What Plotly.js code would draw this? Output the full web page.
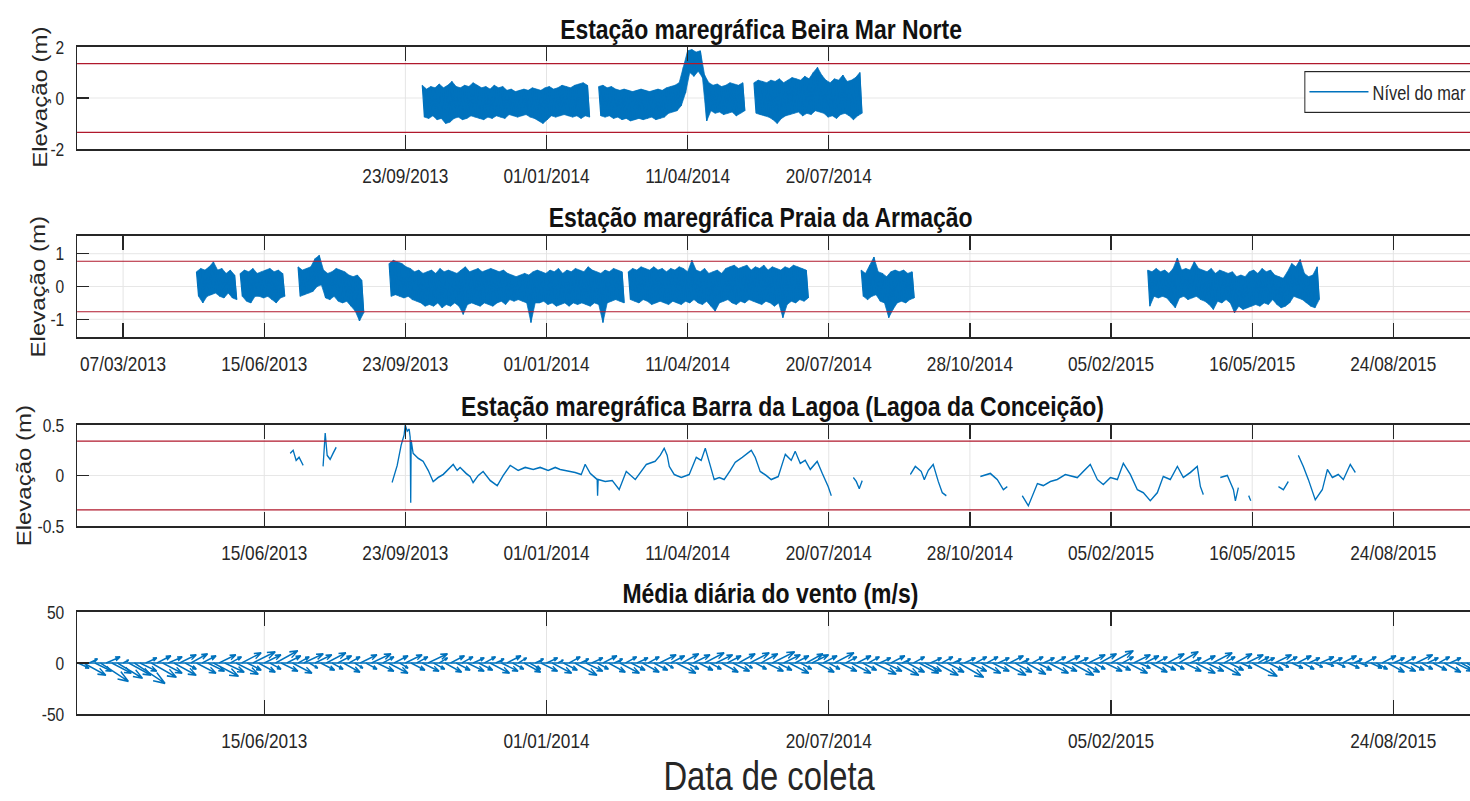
<!DOCTYPE html>
<html>
<head>
<meta charset="utf-8">
<script src="https://cdn.plot.ly/plotly-3.0.1.min.js"></script>
<style>
  html, body { margin: 0; padding: 0; overflow: hidden; background: #fff; }
  /* figura desenhada mais larga e comprimida na horizontal */
  #grafico { width: 1841px; height: 801px; transform: scaleX(0.82); transform-origin: 0 0; }
</style>
</head>
<body>
<div id="grafico"></div>
<script>
// ---------------------------------------------------------------
// Dados: tempo em dias contados a partir de 07/03/2013
// ---------------------------------------------------------------
const DIA_ZERO = Date.UTC(2013, 2, 7);
const DIA_MS = 86400000;
const PASSO_MARE = 3;          // dias entre amostras da envoltória da maré
const LIMITE_EIXO = [-32.6, 970.2];

// Estação Beira Mar Norte: início de cada trecho e envoltória (m)
const beiraInicio = [212, 337, 447];
const beiraMax = [
  [0.5,0.35,0.45,0.4,0.55,0.4,0.5,0.65,0.45,0.4, 0.5,0.45,0.6,0.5,0.4,0.45,0.35,0.5,0.4,0.45,
   0.3,0.35,0.25,0.3,0.35,0.3,0.4,0.35,0.3,0.4, 0.45,0.35,0.4,0.5,0.45,0.4,0.5,0.55,0.6,0.5],
  [0.45,0.5,0.4,0.45,0.35,0.3,0.35,0.3,0.25,0.3, 0.35,0.3,0.25,0.3,0.35,0.3,0.4,0.45,0.5,0.6,
   1.2,1.85,1.9,1.8,1.85, 0.9,0.6,0.5,0.55,0.45, 0.5,0.6,0.55,0.5,0.6],
  [0.6,0.7,0.65,0.6,0.7,0.65,0.75,0.6,0.7,0.8, 0.75,0.7,0.85,0.75,1.0,1.2,0.9,0.7,0.6,0.75,
   0.7,0.9,0.65,0.7,0.8,1.0]
];
const beiraMin = [
  [-0.75,-0.8,-0.7,-0.85,-0.8,-1.0,-0.95,-0.8,-0.75,-0.85, -0.8,-0.7,-0.75,-0.8,-0.85,-0.75,-0.8,-0.7,-0.75,-0.8,
   -0.65,-0.7,-0.75,-0.7,-0.65,-0.75,-0.8,-0.9,-1.0,-0.85, -0.7,-0.75,-0.7,-0.65,-0.7,-0.75,-0.7,-0.8,-0.7,-0.75],
  [-0.7,-0.75,-0.7,-0.8,-0.75,-0.85,-0.8,-0.9,-0.85,-0.8, -0.85,-0.8,-0.75,-0.85,-0.8,-0.75,-0.6,-0.55,-0.5,-0.3,
   0.2,1.0,0.85,1.05,0.8, -0.9,-0.5,-0.6,-0.55,-0.65, -0.6,-0.55,-0.7,-0.6,-0.5],
  [-0.6,-0.65,-0.7,-0.75,-0.85,-1.0,-0.8,-0.7,-0.65,-0.6, -0.55,-0.7,-0.6,-0.65,-0.5,-0.55,-0.6,-0.75,-0.7,-0.8,
   -0.65,-0.6,-0.7,-0.85,-0.7,-0.6]
];
const beiraLimite = [-1.35, 1.35];

// Estação Praia da Armação
const armacaoInicio = [52, 83, 124, 188.5, 358, 523, 726];
const armacaoMax = [
  [0.45,0.55,0.5,0.6,0.75,0.5,0.55,0.4,0.5,0.35],
  [0.4,0.5,0.45,0.55,0.4,0.45,0.5,0.55,0.45,0.5,0.4],
  [0.6,0.5,0.55,0.6,0.85,0.95,0.5,0.4,0.45,0.55,0.5,0.45,0.35,0.3,0.35,0.2],
  [0.7,0.8,0.75,0.7,0.6, 0.55,0.45,0.5,0.4,0.45, 0.5,0.4,0.55,0.45,0.5, 0.45,0.4,0.5,0.6,0.45,
   0.5,0.55,0.45,0.5,0.55, 0.5,0.45,0.5,0.4,0.35, 0.3,0.35,0.4,0.35,0.45, 0.5,0.45,0.4,0.5,0.45,
   0.55,0.4,0.5,0.45,0.55, 0.5,0.45,0.6,0.5,0.45, 0.4,0.5,0.45,0.55,0.5,0.45],
  [0.45,0.55,0.5,0.6,0.55,0.5,0.6,0.5,0.55,0.45, 0.55,0.5,0.6,0.55,0.45,0.8,0.5,0.45,0.55,0.4,
   0.45,0.5,0.4,0.55,0.6,0.65,0.55,0.6,0.65,0.5, 0.6,0.55,0.65,0.5,0.6,0.55,0.5,0.6,0.55,0.65,
   0.6,0.55,0.5],
  [0.5,0.4,0.65,0.9,0.45,0.4,0.3,0.45,0.5,0.45,0.5,0.4,0.45],
  [0.5,0.45,0.55,0.45,0.5,0.4,0.55,0.87,0.5,0.55, 0.5,0.76,0.55,0.5,0.45,0.55,0.4,0.5,0.45,0.4,
   0.45,0.3,0.35,0.3,0.45,0.5,0.4,0.55,0.45,0.5, 0.35,0.3,0.25,0.45,0.7,0.6,0.82,0.4,0.3,0.35,
   0.6]
];
const armacaoMin = [
  [-0.3,-0.5,-0.3,-0.25,-0.2,-0.3,-0.35,-0.2,-0.35,-0.4],
  [-0.3,-0.45,-0.5,-0.3,-0.3,-0.35,-0.3,-0.4,-0.5,-0.35,-0.3],
  [-0.3,-0.25,-0.2,-0.15,0.0,0.05,-0.35,-0.4,-0.3,-0.45,-0.5,-0.45,-0.6,-0.75,-1.05,-0.8],
  [-0.3,-0.25,-0.3,-0.35,-0.3, -0.4,-0.45,-0.5,-0.6,-0.55, -0.6,-0.5,-0.65,-0.55,-0.6, -0.5,-0.6,-0.85,-0.55,-0.5,
   -0.55,-0.6,-0.5,-0.55,-0.6, -0.5,-0.45,-0.55,-0.4,-0.45, -0.4,-0.45,-0.5,-1.1,-0.5, -0.5,-0.45,-0.55,-0.5,-0.6,
   -0.55,-0.5,-0.6,-0.5,-0.55, -0.5,-0.55,-0.6,-0.5,-0.55, -1.1,-0.5,-0.45,-0.4,-0.45,-0.5],
  [-0.4,-0.45,-0.5,-0.4,-0.45,-0.55,-0.5,-0.45,-0.5,-0.55, -0.45,-0.5,-0.55,-0.45,-0.5,-0.4,-0.5,-0.55,-0.45,-0.6,
   -0.75,-0.5,-0.45,-0.4,-0.5,-0.55,-0.45,-0.5,-0.4,-0.45, -0.5,-0.55,-0.45,-0.5,-0.6,-0.5,-0.95,-0.55,-0.45,-0.5,
   -0.4,-0.45,-0.35],
  [-0.3,-0.4,-0.3,-0.25,-0.45,-0.5,-0.95,-0.7,-0.5,-0.45,-0.5,-0.4,-0.35],
  [-0.6,-0.3,-0.35,-0.3,-0.35,-0.5,-0.65,-0.35,-0.3,-0.4, -0.35,-0.3,-0.4,-0.45,-0.55,-0.7,-0.45,-0.5,-0.4,-0.5,
   -0.8,-0.6,-0.7,-0.65,-0.6,-0.55,-0.6,-0.5,-0.55,-0.4, -0.55,-0.65,-0.6,-0.5,-0.3,-0.35,-0.4,-0.5,-0.6,-0.65,
   -0.4]
];
const armacaoLimite = [-0.77, 0.77];

// Estação Barra da Lagoa (Lagoa da Conceição): dia e nível (m); null separa trechos
const lagoaDia = [
  118.4,120.5,122.6,124.7,127.6, null,
  141.7,143.2,144.6,146.7,148.8,151.0, null,
  190.6,194.2,197.0,199.1,199.9,201.3,202.7,203.4,203.8,204.1,
  205.5,209.1,212.6,216.2,219.7,223.2,226.8,230.3,233.9,236.7,
  238.8,243.1,245.9,248.0,251.6,255.1,260.1,265.1,269.3,274.3,
  279.9,284.9,290.6,295.5,301.2,306.2,309.7,320.3,324.6,327.4,
  331.0,335.9,336.2,336.6,341.6,346.6,351.5,356.5,362.9,370.7,
  377.0,380.6,383.4,385.5,387.0,390.5,395.5,401.1,406.1,409.6,
  412.5,416.0,418.8,422.4,425.9,430.2,433.7,438.7,445.1,447.9,
  451.4,455.7,459.2,464.2,469.2,473.4,476.2,479.8,483.3,486.9,
  491.8,495.4,499.6,501.8, null,
  517.4,519.5,521.6,523.7, null,
  557.8,561.3,565.5,567.7,570.5,574.0,577.6,580.4,583.3, null,
  607.4,614.5,619.4,623.7,626.5, null,
  637.1,641.4,647.8,652.0,657.0,661.9,667.6,676.1,680.4,685.3,
  690.3,694.5,699.5,704.5,708.7,713.7,718.6,722.9,727.8,732.8,
  737.0,742.0,747.0,751.2,756.2,761.1,763.3,765.4, null,
  777.4,782.4,786.7,788.1,790.2, null,
  797.5,799.0, null,
  818.6,822.1,825.6, null,
  832.7,836.2,839.8,844.7,849.7,853.3,856.8,861.0,864.6,869.5,873.1
];
const lagoaNivel = [
  0.22,0.25,0.15,0.18,0.10, null,
  0.09,0.42,0.20,0.16,0.22,0.28, null,
  -0.07,0.10,0.30,0.40,0.50,0.44,0.46,0.38,-0.27,0.35,
  0.22,0.17,0.14,0.05,-0.06,-0.02,0.01,0.06,0.11,0.05,
  0.08,0.02,-0.01,-0.07,0.00,0.04,-0.05,-0.10,0.00,0.10,
  0.05,0.08,0.06,0.08,0.05,0.08,0.06,0.03,0.01,0.11,
  0.02,-0.04,-0.20,-0.04,-0.06,-0.05,-0.14,0.04,-0.04,0.11,
  0.14,0.20,0.27,0.20,0.09,0.01,-0.02,0.01,0.18,0.15,
  0.27,0.10,-0.04,-0.02,-0.04,0.05,0.13,0.18,0.25,0.18,
  0.04,0.00,-0.04,-0.01,0.21,0.15,0.24,0.12,0.15,0.06,
  0.14,0.02,-0.11,-0.20, null,
  -0.02,-0.06,-0.13,-0.05, null,
  0.01,0.09,0.04,-0.04,0.05,0.11,-0.06,-0.17,-0.20, null,
  -0.01,0.02,-0.04,-0.14,-0.11, null,
  -0.20,-0.30,-0.08,-0.10,-0.06,-0.04,0.01,-0.02,0.04,0.11,
  -0.04,-0.09,-0.02,-0.04,0.12,0.01,-0.14,-0.17,-0.25,-0.17,
  -0.01,-0.04,0.09,-0.02,0.03,0.09,-0.11,-0.19, null,
  -0.02,0.00,-0.14,-0.25,-0.12, null,
  -0.20,-0.25, null,
  -0.11,-0.14,-0.06, null,
  0.20,0.09,-0.04,-0.24,-0.14,0.06,-0.02,0.01,-0.04,0.11,0.03
];
const lagoaLimite = [-0.34, 0.34];

// Vento médio diário (m/s): componentes u (leste) e v (norte), a cada 4 dias
const ventoInicio = -32;
const ventoPasso = 4;
const ventoU = [
  4,8,3,6,10,5,7,9,2,8,  11,6,4,9,5,7,5,8,6,4,  6,7,5,6,9,6,7,4,8,7,  5,8,6,6,4,8,6,5,7,4,
  7,3,6,5,7,4,5,6,4,3,  6,4,7,6,4,7,5,3,6,5,  4,6,7,4,3,6,5,5,4,6,  4,5,4,7,3,6,5,4,3,6,
  4,3,6,4,7,2,5,4,8,3,  6,4,4,5,6,3,7,4,5,4,  6,4,5,6,3,5,7,6,4,6,  5,7,4,6,6,5,6,6,3,7,
  4,6,6,8,5,6,7,5,4,6,  6,6,5,4,7,6,4,7,5,5,  4,8,4,6,5,8,3,6,4,7,  6,4,8,4,6,3,9,4,6,4,
  7,4,6,4,8,5,6,3,7,4,  5,4,7,4,6,5,8,4,6,6,  4,6,6,8,5,4,7,6,4,5,  6,4,5,6,4,7,6,4,7,5,
  6,7,8,4,5,6,4,6,9,4,  4,5,6,3,4,4,5,4,4,3,  5,3,4,3,5,4,3,3,4,4,  4,5,6,4,6,4,5,6,4,4,
  5,4,6,4,6,8,10,12,9,7
];
const ventoV = [
  -5,-12,4,-8,-18,6,-10,-15,3,-12,  -20,-8,5,-14,7,-10,6,-12,8,-6,  9,-10,7,-8,-13,8,-9,6,-11,10,
  -7,11,-9,8,-6,12,-8,7,-10,6,  9,-5,8,-7,10,-6,7,-9,6,-5,  8,-6,9,-8,6,-10,7,-5,8,-7,
  6,-8,9,-6,5,-9,7,-7,6,-8,  5,-7,6,-10,4,-8,7,-6,5,-9,  -6,4,-8,5,-10,3,-7,6,-12,4,
  -8,5,-6,7,-9,4,-10,6,-7,5,  -9,6,-7,8,-5,7,-10,9,-6,8,  -7,10,-6,8,-9,7,-8,9,-5,10,
  -6,9,-8,11,-7,8,-10,7,-6,9,  8,-9,7,-6,10,-8,6,-10,7,-7,  6,-11,5,-8,7,-12,4,-9,6,-10,
  -8,5,-12,6,-9,4,-14,5,-8,6,  -10,6,-8,5,-12,7,-9,4,-11,6,  -7,5,-10,6,-8,7,-12,5,-9,8,
  -6,9,-8,12,-7,6,-10,8,-5,7,  -9,6,-7,9,-6,11,-8,5,-10,7,  -8,10,-12,6,-7,9,-5,8,-13,6,
  5,-7,8,-4,6,-5,7,-6,5,-4,  6,-3,5,-4,7,-5,4,-3,6,-5,  -6,7,-9,5,-8,6,-7,8,-6,5,
  -7,6,-9,5,-8,-12,-18,-22,-15,-10
];

// Marcas do eixo do tempo de cada painel
const ticksBeira = ['2013-09-23', '2014-01-01', '2014-04-11', '2014-07-20'];
const ticksArmacao = ['2013-03-07', '2013-06-15', '2013-09-23', '2014-01-01', '2014-04-11',
                      '2014-07-20', '2014-10-28', '2015-02-05', '2015-05-16', '2015-08-24'];
const ticksLagoa = ticksArmacao.slice(1);
const ticksVento = ['2013-06-15', '2014-01-01', '2014-07-20', '2015-02-05', '2015-08-24'];

const titulos = [
  'Estação maregráfica Beira Mar Norte',
  'Estação maregráfica Praia da Armação',
  'Estação maregráfica Barra da Lagoa (Lagoa da Conceição)',
  'Média diária do vento (m/s)'
];

// ---------------------------------------------------------------
// Desenho (posições horizontais dadas na página final, já comprimida)
// ---------------------------------------------------------------
const ESC = 0.82;                       // compressão horizontal aplicada ao div
const W = 1841, H = 801;
const ML = 77 / ESC, DIREITA = 1492 / ESC, MR = W - DIREITA;
const LARGURA = DIREITA - ML;
const AZUL = '#0072BD';
const VERMELHO = '#b0182c';
const EIXO = '#262626';
const GRADE = '#e4e4e4';
const SANS = "'Liberation Sans', Arial, sans-serif";

const diaParaMs = d => DIA_ZERO + d * DIA_MS;
const faixaX = LIMITE_EIXO.map(diaParaMs);
const pxParaPapel = px => (px / ESC - ML) / LARGURA;

// posições verticais dos painéis (px a partir do topo)
const paineis = [[47, 149], [236, 337], [425, 526], [612, 714]];
const dominio = p => [1 - p[1] / H, 1 - p[0] / H];

// Registro de maré: zigue-zague entre máximo e mínimo de cada amostra
function serieMare(inicios, maximos, minimos) {
  const x = [], y = [];
  inicios.forEach((d0, s) => {
    maximos[s].forEach((hi, i) => {
      const d = d0 + i * PASSO_MARE;
      x.push(diaParaMs(d), diaParaMs(d + PASSO_MARE / 2));
      y.push(hi, minimos[s][i]);
    });
    x.push(null); y.push(null);
  });
  return { x, y };
}
// Faixa preenchida entre as envoltórias (um polígono por trecho)
function faixaMare(inicios, maximos, minimos) {
  const x = [], y = [];
  inicios.forEach((d0, s) => {
    const n = maximos[s].length;
    for (let i = 0; i < n; i++) { x.push(diaParaMs(d0 + i * PASSO_MARE)); y.push(maximos[s][i]); }
    for (let i = n - 1; i >= 0; i--) { x.push(diaParaMs(d0 + i * PASSO_MARE + PASSO_MARE / 2)); y.push(minimos[s][i]); }
    x.push(null); y.push(null);
  });
  return { x, y };
}

// Gráfico de penas (feather) do vento, com pontas de seta
function serieVento() {
  const pxPorDia = LARGURA / (LIMITE_EIXO[1] - LIMITE_EIXO[0]);
  const pxPorMs = (paineis[3][1] - paineis[3][0]) / 100;
  const escalaU = 3.4;            // px por m/s na direção do tempo
  const alfa = 0.33, beta = 0.33;
  const x = [faixaX[0], faixaX[1], null], y = [0, 0, null];
  ventoU.forEach((u, i) => {
    const v = ventoV[i];
    const d = ventoInicio + i * ventoPasso;
    const ux = u * escalaU, vy = v * pxPorMs;
    const h1 = [ux - alfa * (ux + beta * vy), vy - alfa * (vy - beta * ux)];
    const h2 = [ux - alfa * (ux - beta * vy), vy - alfa * (vy + beta * ux)];
    const px = p => diaParaMs(d + p / pxPorDia);
    x.push(px(0), px(ux), px(h1[0]), px(ux), px(h2[0]), null);
    y.push(0, v, h1[1] / pxPorMs, v, h2[1] / pxPorMs, null);
  });
  return { x, y };
}

const beira = serieMare(beiraInicio, beiraMax, beiraMin);
const beiraFaixa = faixaMare(beiraInicio, beiraMax, beiraMin);
const armacao = serieMare(armacaoInicio, armacaoMax, armacaoMin);
const armacaoFaixa = faixaMare(armacaoInicio, armacaoMax, armacaoMin);
const vento = serieVento();

const faixa = (s, xa, ya) => ({
  x: s.x, y: s.y, xaxis: xa, yaxis: ya, type: 'scatter', mode: 'lines',
  fill: 'toself', fillcolor: AZUL, line: { color: AZUL, width: 0.8 },
  showlegend: false, hoverinfo: 'skip'
});

const traces = [
  faixa(beiraFaixa, 'x', 'y'),
  { x: beira.x, y: beira.y, xaxis: 'x', yaxis: 'y', type: 'scatter', mode: 'lines',
    name: 'Nível do mar', line: { color: AZUL, width: 1.5 }, showlegend: true, hoverinfo: 'skip' },
  faixa(armacaoFaixa, 'x2', 'y2'),
  { x: armacao.x, y: armacao.y, xaxis: 'x2', yaxis: 'y2', type: 'scatter', mode: 'lines',
    line: { color: AZUL, width: 1.5 }, showlegend: false, hoverinfo: 'skip' },
  { x: lagoaDia.map(d => d === null ? null : diaParaMs(d)), y: lagoaNivel, xaxis: 'x3', yaxis: 'y3',
    type: 'scatter', mode: 'lines', line: { color: AZUL, width: 1.6 }, showlegend: false, hoverinfo: 'skip' },
  { x: vento.x, y: vento.y, xaxis: 'x4', yaxis: 'y4', type: 'scatter', mode: 'lines',
    line: { color: AZUL, width: 1.6 }, showlegend: false, hoverinfo: 'skip' }
];

function eixoX(ticks, ancora) {
  return {
    type: 'date', anchor: ancora, domain: [0, 1], range: faixaX,
    tickvals: ticks, tickformat: '%d/%m/%Y',
    ticks: 'inside', ticklen: 14, tickwidth: 1.6, tickcolor: EIXO,
    showline: true, linecolor: EIXO, linewidth: 1.6, mirror: 'ticks',
    showgrid: true, gridcolor: GRADE, gridwidth: 1.2, zeroline: false,
    tickfont: { family: SANS, size: 21, color: EIXO }, ticklabelstandoff: 7,
    fixedrange: true
  };
}
function eixoY(painel, faixa, vals, ancora) {
  return {
    anchor: ancora, domain: dominio(painel), range: faixa,
    tickvals: vals, ticktext: vals.map(v => String(v)),
    ticks: 'inside', ticklen: 12 / ESC, tickwidth: 1.3, tickcolor: EIXO,
    showline: true, linecolor: EIXO, linewidth: 1.8, mirror: 'ticks',
    showgrid: true, gridcolor: GRADE, gridwidth: 1, zeroline: false,
    tickfont: { family: SANS, size: 19, color: EIXO }, ticklabelstandoff: 10,
    fixedrange: true
  };
}

const limites = [[beiraLimite, 'y'], [armacaoLimite, 'y2'], [lagoaLimite, 'y3']];
const shapes = [];
limites.forEach(([lim, yref], k) => {
  const xref = (k === 0 ? 'x' : 'x' + (k + 1)) + ' domain';
  lim.forEach(v => shapes.push({
    type: 'line', xref, yref, x0: 0, x1: 1, y0: v, y1: v,
    line: { color: VERMELHO, width: 1.2 }
  }));
});

// títulos dos painéis (centro em px)
const titulosPos = [[761, 30], [760, 217], [782, 406], [770, 593]];
const annotations = titulos.map((t, i) => ({
  text: t, xref: 'paper', yref: 'paper',
  x: pxParaPapel(titulosPos[i][0]), y: 1 - titulosPos[i][1] / H,
  xanchor: 'center', yanchor: 'middle', showarrow: false,
  font: { family: SANS, size: 28, color: '#111', weight: 'bold' }
}));
// rótulos do eixo vertical dos três painéis de maré
const rotuloYPos = [[40, 97], [38, 287], [24, 476]];
rotuloYPos.forEach(([px, py]) => annotations.push({
  text: 'Elevação (m)', xref: 'paper', yref: 'paper',
  x: pxParaPapel(px), y: 1 - py / H, xanchor: 'center', yanchor: 'middle',
  textangle: -90, showarrow: false, font: { family: SANS, size: 24, color: EIXO }
}));
annotations.push({
  text: 'Data de coleta', xref: 'paper', yref: 'paper',
  x: pxParaPapel(769), y: 1 - 776 / H, xanchor: 'center', yanchor: 'middle',
  showarrow: false, font: { family: SANS, size: 40, color: EIXO }
});

const layout = {
  width: W, height: H,
  margin: { l: ML, r: MR, t: 0, b: 0 },
  paper_bgcolor: '#fff', plot_bgcolor: '#fff',
  showlegend: true,
  legend: {
    x: pxParaPapel(1304), y: 1 - 71 / H, xanchor: 'left', yanchor: 'top',
    xref: 'paper', yref: 'paper',
    bgcolor: '#fff', bordercolor: EIXO, borderwidth: 1.2,
    font: { family: SANS, size: 20, color: EIXO }, itemwidth: 72
  },
  xaxis: eixoX(ticksBeira, 'y'),
  xaxis2: eixoX(ticksArmacao, 'y2'),
  xaxis3: eixoX(ticksLagoa, 'y3'),
  xaxis4: eixoX(ticksVento, 'y4'),
  yaxis: eixoY(paineis[0], [-2, 2], [-2, 0, 2], 'x'),
  yaxis2: eixoY(paineis[1], [-1.54, 1.54], [-1, 0, 1], 'x2'),
  yaxis3: eixoY(paineis[2], [-0.5, 0.5], [-0.5, 0, 0.5], 'x3'),
  yaxis4: eixoY(paineis[3], [-50, 50], [-50, 0, 50], 'x4'),
  shapes, annotations
};

Plotly.newPlot('grafico', traces, layout, { displayModeBar: false, staticPlot: true });
</script>
</body>
</html>
